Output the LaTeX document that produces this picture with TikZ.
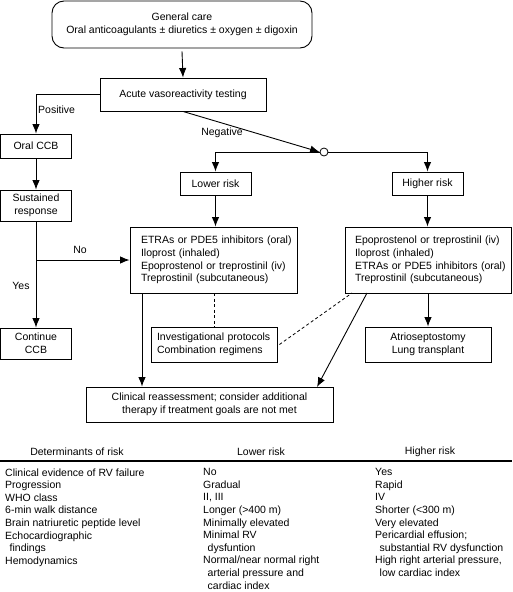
\documentclass[tikz,border=0pt]{standalone}
\usepackage{fontspec}
\setmainfont{Liberation Sans}
\usetikzlibrary{arrows.meta}
\begin{document}
\begin{tikzpicture}[x=1pt,y=-1pt,
  every node/.style={font=\fontsize{10.5}{12.6}\selectfont},
  box/.style={draw,line width=0.9pt,inner sep=0pt,align=center},
  conn/.style={line width=0.9pt},
  arr/.style={conn,-{Latex[length=9.5pt,width=7.5pt]}},
  dsh/.style={line width=0.8pt,dash pattern=on 3pt off 2.5pt},
  lbl/.style={inner sep=0pt}]
\useasboundingbox (0,0) rectangle (512,592);
% boxes
\node[box,rounded corners=12pt,minimum width=260pt,minimum height=47pt] (gen) at (182,24.5) {General care\\Oral anticoagulants ± diuretics ± oxygen ± digoxin};
\node[box,minimum width=166pt,minimum height=33pt] (avt) at (183,94.5) {Acute vasoreactivity testing};
\node[box,minimum width=71pt,minimum height=24pt] (occb) at (36,146) {Oral CCB};
\node[box,minimum width=71pt,minimum height=31pt] (sus) at (36,205.5) {Sustained\\response};
\node[box,minimum width=71pt,minimum height=31pt] (cont) at (36,343.5) {Continue\\CCB};
\node[box,minimum width=71pt,minimum height=23pt] (low) at (215.5,183.5) {Lower risk};
\node[box,minimum width=71pt,minimum height=23pt] (high) at (427.5,183.5) {Higher risk};
\node[box,minimum width=167pt,minimum height=66pt,align=left,text width=145pt,inner xsep=11pt] (lt) at (213.5,260) {\mbox{ETRAs or PDE5 inhibitors (oral)}\\Iloprost (inhaled)\\\mbox{Epoprostenol or treprostinil (iv)}\\\mbox{Treprostinil (subcutaneous)}};
\node[box,minimum width=166pt,minimum height=66pt,align=left,text width=146pt,inner xsep=10pt] (ht) at (428,260) {\mbox{Epoprostenol or treprostinil (iv)}\\Iloprost (inhaled)\\\mbox{ETRAs or PDE5 inhibitors (oral)}\\\mbox{Treprostinil (subcutaneous)}};
\node[box,minimum width=126pt,minimum height=35pt,align=left,text width=114pt,inner xsep=6pt] (inv) at (214,344.5) {Investigational protocols\\Combination regimens};
\node[box,minimum width=126pt,minimum height=35pt] (atr) at (428,344.5) {Atrioseptostomy\\Lung transplant};
\node[box,minimum width=247pt,minimum height=35pt] (clin) at (209.5,404.5) {Clinical reassessment; consider additional\\therapy if treatment goals are not met};
\node[draw,circle,line width=0.8pt,minimum size=8pt,inner sep=0pt,fill=white] (c) at (324,152) {};
% connectors
\draw[arr] (gen.south) ++(0,3) -- (avt.north);
\draw[arr] (avt.west) -| (occb.north);
\node[lbl,anchor=west] (lpos) at (38,110) {Positive};
\draw[arr] (avt.south) -- (c.west);
\node[lbl] (lneg) at (222,133) {Negative};
\draw[arr] (c.west) -| (low.north);
\draw[arr] (c.east) -| (high.north);
\draw[arr] (low.south) -- (lt.north -| low.south);
\draw[arr] (high.south) -- (ht.north -| high.south);
\draw[arr] (occb.south) -- (sus.north);
\draw[arr] (sus.south) -- (cont.north);
\coordinate (br) at (sus.south |- lt.west);
\draw[arr] (br) -- (lt.west);
\node[lbl] (lno) at (80,249.5) {No};
\node[lbl] (lyes) at (21,285.5) {Yes};
\draw[arr] (lt.south -| 142,0) -- (clin.north -| 142,0);
\draw[dsh] (lt.south -| inv.north) -- (inv.north);
\draw[dsh] (inv.east) ++(2,0) -- (352,293);
\coordinate (hs) at (367,293);
\coordinate (ce) at (317,387);
\draw[arr] (hs) -- (ce);
\draw[arr] (ht.south -| atr.north) -- (atr.north);
% table
\node[lbl] (h1) at (77,452) {Determinants of risk};
\node[lbl] (h2) at (261,452) {Lower risk};
\node[lbl] (h3) at (430,452) {Higher risk};
\draw[line width=1.3pt] (0,461) -- (512,461);
\node[lbl,anchor=north west,align=left] (c1) at (5,468.3) {Clinical evidence of RV failure\\Progression\\WHO class\\6-min walk distance\\Brain natriuretic peptide level\\Echocardiographic\\\hspace*{4.5pt}findings\\Hemodynamics};
\node[lbl,anchor=north west,align=left] (c2) at (203,468.3) {No\\Gradual\\II, III\\Longer (>400 m)\\Minimally elevated\\Minimal RV\\\hspace*{4.5pt}dysfuntion\\Normal/near normal right\\\hspace*{4.5pt}arterial pressure and\\\hspace*{4.5pt}cardiac index};
\node[lbl,anchor=north west,align=left] (c3) at (375,468.3) {Yes\\Rapid\\IV\\Shorter (<300 m)\\Very elevated\\Pericardial effusion;\\\hspace*{4.5pt}substantial RV dysfunction\\High right arterial pressure,\\\hspace*{4.5pt}low cardiac index};
\end{tikzpicture}
\end{document}
